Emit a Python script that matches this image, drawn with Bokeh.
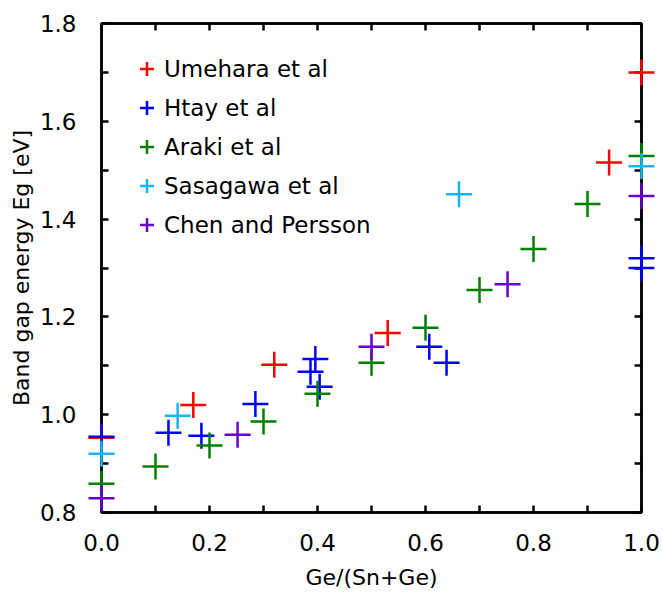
from bokeh.plotting import figure
from bokeh.models import (ColumnDataSource, Legend, LegendItem, LinearAxis,
                          FixedTicker, Range1d, PrintfTickFormatter)
from bokeh.embed import file_html
from bokeh.resources import INLINE

# ---- data ----
umehara_x = [0.0, 0.17, 0.32, 0.53, 0.94, 1.0]
umehara_y = [0.953, 1.020, 1.102, 1.167, 1.516, 1.700]

htay_x = [0.0, 0.124, 0.185, 0.285, 0.387, 0.396, 0.404, 0.607, 0.639, 1.0, 1.0]
htay_y = [0.955, 0.963, 0.957, 1.022, 1.088, 1.114, 1.057, 1.139, 1.106, 1.320, 1.300]

araki_x = [0.0, 0.10, 0.20, 0.30, 0.40, 0.50, 0.60, 0.70, 0.80, 0.90, 1.0]
araki_y = [0.859, 0.894, 0.937, 0.986, 1.043, 1.106, 1.178, 1.255, 1.339, 1.431, 1.529]

sasagawa_x = [0.0, 0.141, 0.662, 1.0]
sasagawa_y = [0.920, 0.998, 1.451, 1.508]

chen_x = [0.0, 0.252, 0.50, 0.752, 1.0]
chen_y = [0.829, 0.959, 1.139, 1.267, 1.447]

series_names = ["Umehara et al", "Htay et al", "Araki et al",
                "Sasagawa et al", "Chen and Persson"]
series_colors = ["#ff0000", "#0000ff", "#008000", "#19b5f0", "#6a00cc"]

x_ticks = [0.0, 0.2, 0.4, 0.6, 0.8, 1.0]
x_minor = [0.1, 0.3, 0.5, 0.7, 0.9]
y_ticks = [0.8, 1.0, 1.2, 1.4, 1.6, 1.8]
y_minor = [0.9, 1.1, 1.3, 1.5, 1.7]

FONT = "DejaVu Sans"

p = figure(width=662, height=592, output_backend="svg", toolbar_location=None,
           x_range=Range1d(0.0, 1.0), y_range=Range1d(0.8, 1.8),
           min_border_left=101, min_border_right=21,
           min_border_top=23, min_border_bottom=79,
           x_axis_label="Ge/(Sn+Ge)", y_axis_label="Band gap energy Eg [eV]")

p.grid.visible = False
p.outline_line_color = "black"
p.outline_line_width = 2.5
p.background_fill_color = "white"
p.border_fill_color = "white"

all_series = [(umehara_x, umehara_y), (htay_x, htay_y), (araki_x, araki_y),
              (sasagawa_x, sasagawa_y), (chen_x, chen_y)]

items = []
for (xs, ys), name, col in zip(all_series, series_names, series_colors):
    src = ColumnDataSource(dict(x=xs, y=ys))
    r = p.scatter("x", "y", source=src, marker="cross", size=26,
                  line_color=col, line_width=2.5, level="overlay")
    items.append(LegendItem(label=name, renderers=[r]))

legend = Legend(items=items, location="top_left", margin=28, padding=0,
                glyph_width=35, glyph_height=35, label_height=35,
                spacing=4, label_standoff=-5,
                label_text_font=FONT, label_text_font_size="23px",
                label_text_color="black",
                border_line_color=None, background_fill_alpha=0)
p.add_layout(legend)

# main axes
for ax in (p.xaxis[0], p.yaxis[0]):
    ax.axis_line_width = 2.5
    ax.major_tick_in = 7
    ax.major_tick_out = 0
    ax.minor_tick_in = 7
    ax.minor_tick_out = 0
    ax.major_tick_line_width = 2.5
    ax.minor_tick_line_width = 2.5
    ax.major_label_text_font = FONT
    ax.major_label_text_font_size = "23px"
    ax.major_label_text_color = "black"
    ax.axis_label_text_font = FONT
    ax.axis_label_text_font_size = "22px"
    ax.axis_label_text_font_style = "normal"
    ax.axis_label_text_color = "black"
    ax.formatter = PrintfTickFormatter(format="%.1f")

p.xaxis[0].ticker = FixedTicker(ticks=x_ticks, minor_ticks=x_minor)
p.yaxis[0].ticker = FixedTicker(ticks=y_ticks, minor_ticks=y_minor)
p.xaxis[0].major_label_standoff = 21
p.xaxis[0].axis_label_standoff = 11
p.yaxis[0].major_label_standoff = 25
p.yaxis[0].axis_label_standoff = 3

# mirrored axes (top/right), ticks only
for side in ("above", "right"):
    ax = LinearAxis()
    if side == "above":
        ax.ticker = FixedTicker(ticks=x_ticks, minor_ticks=x_minor)
    else:
        ax.ticker = FixedTicker(ticks=y_ticks, minor_ticks=y_minor)
    ax.axis_line_width = 2.5
    ax.major_tick_in = 7
    ax.major_tick_out = 0
    ax.minor_tick_in = 7
    ax.minor_tick_out = 0
    ax.major_tick_line_width = 2.5
    ax.minor_tick_line_width = 2.5
    ax.major_label_text_font_size = "0px"
    ax.major_label_standoff = 0
    p.add_layout(ax, side)

open("out.html", "w").write(file_html(p, INLINE))
